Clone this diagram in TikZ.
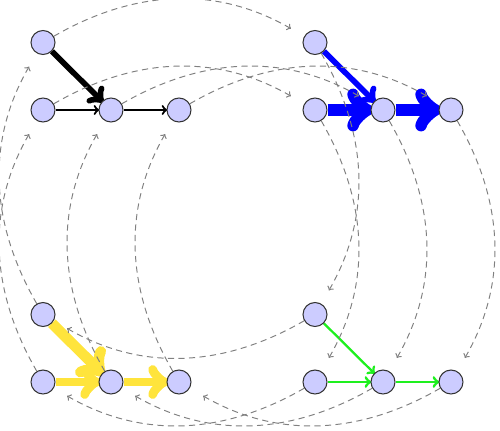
\documentclass[tikz,border=0pt]{standalone}
\pgfdeclarelayer{bg}
\pgfsetlayers{bg,main}
\definecolor{nodefill}{RGB}{204,204,255}
\definecolor{myyellow}{RGB}{255,228,60}
\definecolor{mygreen}{RGB}{30,240,30}
\makeatletter
\pgfarrowsdeclare{oldto}{oldto}
{%
  \pgfutil@tempdima=0.28pt%
  \advance\pgfutil@tempdima by.3\pgflinewidth%
  \pgfutil@tempdimb=\pgfutil@tempdima\advance\pgfutil@tempdimb by.5\pgflinewidth
  \pgfarrowsleftextend{+-3\pgfutil@tempdimb}%
  \pgfarrowsrightextend{+.5\pgflinewidth}%
}
{%
  \pgfutil@tempdima=0.28pt%
  \advance\pgfutil@tempdima by.3\pgflinewidth%
  \pgfsetdash{}{+0pt}%
  \pgfsetroundcap
  \pgfsetroundjoin
  \pgfpathmoveto{\pgfqpoint{-3\pgfutil@tempdima}{4\pgfutil@tempdima}}%
  \pgfpathcurveto
  {\pgfqpoint{-2.75\pgfutil@tempdima}{2.5\pgfutil@tempdima}}%
  {\pgfqpoint{0pt}{0.25\pgfutil@tempdima}}%
  {\pgfqpoint{0.75\pgfutil@tempdima}{0pt}}%
  \pgfpathcurveto
  {\pgfqpoint{0pt}{-0.25\pgfutil@tempdima}}%
  {\pgfqpoint{-2.75\pgfutil@tempdima}{-2.5\pgfutil@tempdima}}%
  {\pgfqpoint{-3\pgfutil@tempdima}{-4\pgfutil@tempdima}}%
  \pgfusepathqstroke
}
\makeatother
\begin{document}
\begin{tikzpicture}[x=0.02cm,y=0.02cm,
  vtx/.style={circle,draw=black!80,fill=nodefill,line width=0.6pt,minimum size=0.48cm,inner sep=0pt},
  glink/.style={draw=gray,line width=0.55pt,dash pattern=on 3.5pt off 2.5pt,shorten >=9pt,-oldto},
  arr/.style={line width=#1,-oldto}]
\useasboundingbox (0,0) rectangle (500,-430);
\foreach \g/\dx/\dy in {A/0/0,B/272/0,C/272/-272,D/0/-272}{
  \node[vtx] (\g t) at (43+\dx,-42.5+\dy) {};
  \node[vtx] (\g l) at (43+\dx,-110+\dy) {};
  \node[vtx] (\g m) at (111+\dx,-110+\dy) {};
  \node[vtx] (\g r) at (179+\dx,-110+\dy) {};
}
\begin{pgfonlayer}{bg}
  % black group
  \draw[arr=3.2pt,black] (At) -- (Am);
  \draw[arr=1pt,black] (Al) -- (Am);
  \draw[arr=1pt,black] (Am) -- (Ar);
  % blue group
  \draw[arr=3.2pt,blue] (Bt) -- (Bm);
  \draw[arr=6.5pt,blue] (Bl) -- (Bm);
  \draw[arr=6.5pt,blue] (Bm) -- (Br);
  % green group
  \draw[arr=1.3pt,mygreen] (Ct) -- (Cm);
  \draw[arr=1.3pt,mygreen] (Cl) -- (Cm);
  \draw[arr=1.3pt,mygreen] (Cm) -- (Cr);
  % yellow group
  \draw[arr=6pt,myyellow] (Dt) -- (Dm);
  \draw[arr=5pt,myyellow] (Dl) -- (Dm);
  \draw[arr=5pt,myyellow] (Dm) -- (Dr);
  % grey cycle
  \foreach \s/\e in {A/B,B/C,C/D,D/A}{
    \foreach \n in {t,l,m,r}{
      \draw[glink] (\s\n) to[bend left=30] (\e\n);
    }
  }
\end{pgfonlayer}
\end{tikzpicture}
\end{document}
